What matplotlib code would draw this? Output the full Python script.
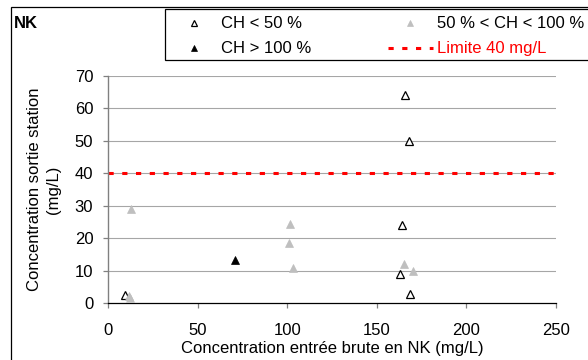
import matplotlib
matplotlib.use("Agg")
import matplotlib.pyplot as plt
from matplotlib.lines import Line2D
from matplotlib.patches import Rectangle

plt.rcParams['font.family'] = ['Liberation Sans', 'DejaVu Sans']
plt.rcParams['font.size'] = 12

# Concentrations (mg/L): raw inlet NK vs. station outlet, grouped by hydraulic load (CH)
low_x = [166, 168, 164, 163, 168.5, 9.5]
low_y = [64, 50, 24, 9, 3, 2.5]
mid_x = [13, 11.5, 12.5, 101.5, 101, 103, 165, 170]
mid_y = [29, 2.2, 1.5, 24.5, 18.5, 11, 12, 10]
high_x = [71]
high_y = [13.3]
limit = 40

labels = ["CH < 50 %", "50 % < CH < 100 %", "CH > 100 %", "Limite 40 mg/L"]
x_ticks = [0, 50, 100, 150, 200, 250]
y_ticks = [0, 10, 20, 30, 40, 50, 60, 70]

W, H = 588, 360
fig = plt.figure(figsize=(W / 100, H / 100), dpi=100)

def fx(px):
    return px / W

def fy(py):
    return 1 - py / H

ax = fig.add_axes([fx(108), fy(303.3), fx(556) - fx(108), fy(75.7) - fy(303.3)])

grid_col = '#a6a6a6'
gray = '#bfbfbf'
for v in y_ticks[1:]:
    ax.axhline(v, color=grid_col, lw=0.8, zorder=1)
ax.axhline(limit, color='#ff0000', lw=2.2, dashes=(1.7, 2.8), zorder=2)

ms = 5.2
ax.plot(low_x, low_y, linestyle='none', marker='^', ms=ms, mfc='white',
        mec='black', mew=0.9, zorder=3)
ax.plot(mid_x, mid_y, linestyle='none', marker='^', ms=ms + 0.8, mfc=gray,
        mec=gray, mew=0.5, zorder=4)
ax.plot(high_x, high_y, linestyle='none', marker='^', ms=ms + 0.4, mfc='black',
        mec='black', mew=0.5, zorder=5)

ax.set_xlim(0, 250)
ax.set_ylim(0, 70)
ax.set_xticks(x_ticks)
ax.set_yticks(y_ticks)
for s in ('top', 'right'):
    ax.spines[s].set_visible(False)
ax.spines['left'].set_color('#808080')
ax.spines['left'].set_linewidth(1.0)
ax.spines['bottom'].set_color('black')
ax.spines['bottom'].set_linewidth(0.9)
ax.tick_params(axis='both', direction='out', length=3.6, width=0.9,
               color='#808080', labelsize=12)
ax.tick_params(axis='x', pad=10.5)
ax.tick_params(axis='y', pad=7)
ax.set_xlabel("Concentration entrée brute en NK (mg/L)", fontsize=12, labelpad=2.5)
ax.set_ylabel("Concentration sortie station\n(mg/L)", fontsize=12,
              linespacing=1.3, labelpad=10)

# Outer frame and title
fig.add_artist(Rectangle((fx(11), fy(7.3) - 1.2), 1.2, 1.2, transform=fig.transFigure,
                         fill=False, ec='black', lw=0.9))
fig.text(fx(14), fy(23), "NK", fontsize=12, fontweight='bold', ha='left', va='center')

# Legend box
fig.add_artist(Rectangle((fx(165), fy(60)), 1.0, fy(8.5) - fy(60), transform=fig.transFigure,
                         fill=True, fc='white', ec='black', lw=0.9))
r1, r2 = fy(23.3), fy(48.3)
fig.add_artist(Line2D([fx(194)], [r1], transform=fig.transFigure, marker='^',
                      ms=4.6, mfc='white', mec='black', mew=0.9, linestyle='none'))
fig.text(fx(221), r1, labels[0], ha='left', va='center', fontsize=12)
fig.add_artist(Line2D([fx(410)], [r1], transform=fig.transFigure, marker='^',
                      ms=4.8, mfc=gray, mec=gray, mew=0.5, linestyle='none'))
fig.text(fx(437), r1, labels[1], ha='left', va='center', fontsize=12)
fig.add_artist(Line2D([fx(194)], [r2], transform=fig.transFigure, marker='^',
                      ms=4.8, mfc='black', mec='black', mew=0.5, linestyle='none'))
fig.text(fx(221), r2, labels[2], ha='left', va='center', fontsize=12)
fig.add_artist(Line2D([fx(388), fx(433)], [r2, r2], transform=fig.transFigure,
                      color='#ff0000', lw=2.2, dashes=(1.7, 2.8)))
fig.text(fx(437), r2, labels[3], ha='left', va='center', fontsize=12, color='#ff0000')

fig.savefig("out.png", dpi=100)
